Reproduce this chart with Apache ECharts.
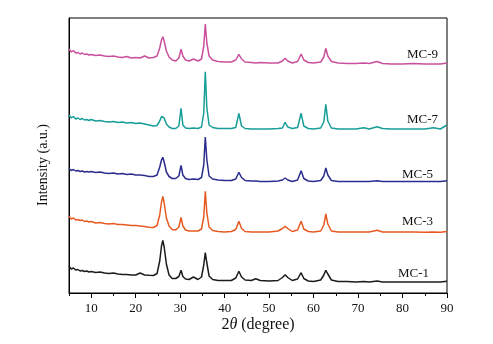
<!DOCTYPE html>
<html>
<head>
<meta charset="utf-8">
<script src="https://cdn.jsdelivr.net/npm/echarts@6/dist/echarts.min.js"></script>
<style>
html,body{margin:0;padding:0;background:#fff;}
#c{width:493px;height:344px;}
</style>
</head>
<body>
<div id="c"></div>
<script>
// 2θ positions (degree), shared by all patterns
const twoTheta = [5,5.5,6,6.5,7,7.5,8,8.5,9,9.5,10,11,12,13,14,15,16,17,18,19,20,21,22,23,24,24.8,25.4,25.8,26.1,26.4,26.9,27.5,28.2,29,29.7,30.2,30.6,31.2,32,33,34,34.8,35.3,35.65,36,36.5,37.3,38.5,40,41.5,42.5,43.2,43.8,44.6,46,47,48,50,52,53,53.6,54.2,55.2,56.4,57.2,57.8,58.8,60,61.6,62.3,62.75,63.2,64,65.5,67.5,69.5,71.3,72.5,74.3,75.5,77.5,80,82.5,85,87,88.5,90];

// Offset intensities (a.u.)
const mc9 = [244,241,242.5,240,240.5,239,240,238.5,239,238,238.5,237.5,238,237,236.5,237,236,235.5,236.5,235,235.5,235,237,235,235.5,237,245,253,256.3,252,242,236,233,232,235,243.7,237,233,232,234,232,234,247,269,250,237,233,231.5,231,231,233,238.7,234,231,230.5,230,230.5,230,230,232,234.7,232,230,231.5,239,233,230.5,230,231,236,244.7,237,231.5,230,229.5,229.5,230,229.5,231.5,229.5,229,229,229.5,229,229,229,230];
const mc7 = [178,175,176.5,174,175,173.5,174.5,173,173.5,172.5,173.5,172,172.5,171.5,171,171.5,170.5,171,170,170.5,169.5,170,169,168,167,167.5,172,176.5,178,175,169,166,164.5,164.5,167,184.7,168,165,164.5,165,164.5,166,180,221.3,185,168,165.5,164.5,164.5,164.5,165.5,179.7,167,164.5,164,164,164,164,164.5,165,170.7,166,164.5,165.5,179.7,167,164.5,164,165,171,188.7,172,165,164,164,164,165.3,164,166.3,164.5,164,164,164,164,165.3,164,168];
const mc5 = [124.3,122.5,123.5,122,122.5,121.5,122,121,121.5,121,121.5,120.5,121,120,119.5,120,119,119.5,118.5,119,118,118,117.5,116.5,116.5,118,126,133,135.7,131,121,116.5,114.5,114.5,117,127.7,118,114.5,113.5,114,113.5,115.5,128,156,133,117,114,113,112.5,112.5,114,120.7,115.5,112.5,112,112,111.5,111.5,112,113,115,113,111.5,113,122.3,114.5,112,111.5,112.5,117,125,118,112.5,111.5,111.5,111.5,111.5,111.5,112.3,111.5,111.5,111.5,111.5,111.5,111.5,111.5,112.3];
const mc3 = [76.7,74,75,73,73.5,72.5,73,71.5,72,71,71.5,70,70.5,69.5,69,69.5,68.5,68.5,68,67.5,67.5,67,66.5,65.7,65.5,67.5,78,91,96.7,90,75,67,63.5,63,66,75.7,67,63,62,62,62,64,76,101.7,80,66,62.5,61.5,61,61.5,63.5,71.7,64.5,61.5,61,61,61,61,62,64.5,66.7,64.5,61.5,63,71.7,64,61.5,61,62,68,79,69,62,61,61,61,61,61,62.7,61,61,61,61,60.7,61,60.7,61.5];
const mc1 = [26.7,24,25,23,23.5,22,22.5,21.5,22,21,21.5,20.5,21,20,19.5,20,19,18.5,18.5,18,18,20,18,17.7,17.5,19.5,32,47,52.7,46,29,18,14.5,14.5,16.5,22.7,16.5,14,13.5,16,13.5,16,28,40.3,30,17,13.5,12.5,12.5,12.5,15,21.7,16,13,12.5,14.3,12.5,12,12.5,15.5,18.3,15.5,12.5,14,20.3,14.5,12,11.5,13,18,22.7,19,13,11.5,11.5,11,11.5,11,12,11,11,11,11,11,11,11,11.7];

const seriesNames = ['MC-1','MC-3','MC-5','MC-7','MC-9'];
const seriesData = [mc1, mc3, mc5, mc7, mc9];
const seriesColors = ['#1c1c1c','#e65a22','#2b2d8e','#179e98','#c9509c'];
const majorTicks = [10,20,30,40,50,60,70,80,90];
const minorTicks = [5,15,25,35,45,55,65,75,85];

const serif = '"Liberation Serif","DejaVu Serif",serif';
const chart = echarts.init(document.getElementById('c'), null, {renderer:'canvas'});

const labelPlaces = [[429,273.7],[433,221.3],[433,174.7],[438,120],[438,55]];

const option = {
  animation:false,
  backgroundColor:'#fff',
  grid:{left:69,right:46,top:18,bottom:51,show:true,borderColor:'#000',borderWidth:1,backgroundColor:'transparent'},
  xAxis:[{
    type:'value',min:5,max:90,position:'bottom',
    axisLine:{show:true,onZero:false,lineStyle:{color:'#000',width:1}},
    axisTick:{show:true,inside:false,length:5,customValues:majorTicks,lineStyle:{color:'#000',width:1}},
    axisLabel:{show:true,customValues:majorTicks,margin:9,color:'#111',fontFamily:serif,fontSize:13},
    splitLine:{show:false},
    name:'',
  },{
    type:'value',min:5,max:90,position:'bottom',offset:0,
    axisLine:{show:false},
    axisTick:{show:true,inside:false,length:3,customValues:minorTicks,lineStyle:{color:'#000',width:1}},
    axisLabel:{show:false},
    splitLine:{show:false}
  }],
  yAxis:{
    type:'value',min:0,max:275,
    axisLine:{show:true,onZero:false,lineStyle:{color:'#000',width:1}},
    axisTick:{show:false},axisLabel:{show:false},splitLine:{show:false}
  },
  series: seriesNames.map((n,i)=>({
    name:n,type:'line',xAxisIndex:0,
    data: twoTheta.map((t,k)=>[t, seriesData[i][k]]),
    showSymbol:false,symbol:'none',smooth:false,
    lineStyle:{color:seriesColors[i],width:1.5},
    itemStyle:{color:seriesColors[i]}
  })),
  graphic:[
    {type:'text',x:43,y:165,rotation:Math.PI/2,style:{text:'Intensity (a.u.)',fill:'#111',font:'14px '+serif,textAlign:'center',textVerticalAlign:'middle'}},
    {type:'text',x:258,y:325,style:{text:'{n|2}{i|θ}{n| (degree)}',textAlign:'center',textVerticalAlign:'middle',rich:{n:{fontFamily:serif,fontSize:16,fill:'#111',color:'#111'},i:{fontFamily:serif,fontSize:16,fontStyle:'italic',fill:'#111',color:'#111'}}}},
  ].concat(seriesNames.map((n,i)=>({
    type:'text',x:labelPlaces[i][0],y:labelPlaces[i][1],
    style:{text:n,fill:'#111',font:'13px '+serif,textAlign:'right',textVerticalAlign:'middle'}
  })))
};
chart.setOption(option);
</script>
</body>
</html>
